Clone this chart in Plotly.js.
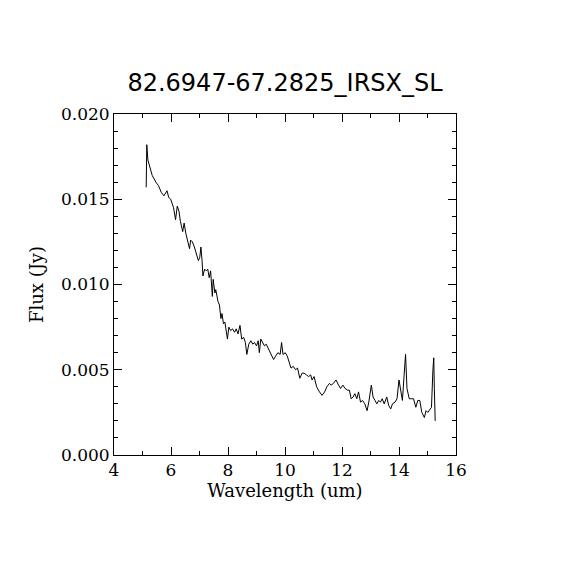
<!DOCTYPE html>
<html>
<head>
<meta charset="utf-8">
<script src="https://cdn.plot.ly/plotly-3.0.1.min.js"></script>
<style>html,body{margin:0;padding:0;background:#fff;}#chart{width:570px;height:570px;}</style>
</head>
<body>
<div id="chart"></div>
<script>
const chartTitle = "82.6947-67.2825_IRSX_SL";
const xLabel = "Wavelength (um)";
const yLabel = "Flux (Jy)";
const wavelength = [5.13,5.15,5.19,5.22,5.27,5.34,5.47,5.56,5.66,5.75,5.86,5.92,5.99,6.09,6.16,6.22,6.28,6.33,6.41,6.46,6.52,6.60,6.65,6.69,6.75,6.82,6.88,6.96,7.01,7.05,7.09,7.12,7.18,7.24,7.29,7.34,7.39,7.45,7.48,7.54,7.57,7.61,7.65,7.70,7.75,7.79,7.84,7.89,7.94,7.98,8.03,8.09,8.16,8.23,8.29,8.35,8.42,8.48,8.55,8.61,8.66,8.73,8.80,8.87,8.93,9.00,9.06,9.10,9.15,9.21,9.28,9.34,9.42,9.51,9.60,9.67,9.75,9.83,9.88,9.93,10.01,10.08,10.15,10.21,10.29,10.37,10.44,10.52,10.60,10.67,10.75,10.83,10.90,10.95,11.02,11.11,11.21,11.30,11.39,11.47,11.56,11.62,11.70,11.79,11.88,11.95,12.03,12.11,12.20,12.26,12.32,12.39,12.45,12.52,12.58,12.65,12.72,12.80,12.88,12.94,13.03,13.09,13.16,13.22,13.29,13.35,13.41,13.48,13.57,13.64,13.71,13.77,13.86,13.93,14.00,14.05,14.12,14.18,14.23,14.28,14.36,14.44,14.51,14.59,14.66,14.73,14.80,14.89,14.95,15.01,15.08,15.14,15.19,15.22,15.24,15.27];
const flux = [0.0157,0.0182,0.0173,0.0171,0.0167,0.0164,0.0160,0.0158,0.0154,0.0152,0.0155,0.0151,0.0150,0.0145,0.0138,0.0146,0.0143,0.0137,0.0131,0.0136,0.0130,0.0125,0.0121,0.0126,0.0125,0.0122,0.0119,0.0114,0.0116,0.0122,0.0114,0.0105,0.0109,0.0108,0.0109,0.0104,0.0108,0.0093,0.0103,0.0095,0.0097,0.0092,0.0090,0.0088,0.0080,0.0083,0.0077,0.0078,0.0072,0.0068,0.0075,0.0073,0.0074,0.0072,0.0074,0.0071,0.0076,0.0068,0.0069,0.0066,0.0059,0.0065,0.0067,0.0065,0.0066,0.0064,0.0067,0.0060,0.0068,0.0066,0.0064,0.0065,0.0062,0.0059,0.0056,0.0058,0.0060,0.0059,0.0066,0.0059,0.0060,0.0058,0.0054,0.0051,0.0052,0.0050,0.0051,0.0045,0.0048,0.0048,0.0047,0.0046,0.0047,0.0044,0.0046,0.0040,0.0037,0.0035,0.0037,0.0040,0.0042,0.0041,0.0042,0.0044,0.0041,0.0039,0.0041,0.0039,0.0038,0.0038,0.0033,0.0034,0.0036,0.0033,0.0037,0.0031,0.0032,0.0030,0.0026,0.0031,0.0041,0.0034,0.0032,0.0030,0.0032,0.0031,0.0033,0.0030,0.0034,0.0029,0.0027,0.0030,0.0031,0.0033,0.0044,0.0038,0.0032,0.0047,0.0059,0.0039,0.0033,0.0033,0.0033,0.0028,0.0032,0.0032,0.0025,0.0022,0.0026,0.0025,0.0027,0.0028,0.0050,0.0057,0.0039,0.0020];
const xTicks = [4,6,8,10,12,14,16];
const yTicks = [0.000,0.005,0.010,0.015,0.020];
const yTickText = ["0.000","0.005","0.010","0.015","0.020"];

const axisFont = {family:"DejaVu Serif", size:17, color:"#000"};
const trace = {x:wavelength, y:flux, type:"scatter", mode:"lines", line:{color:"#000", width:1}, hoverinfo:"skip"};
const layout = {
  width:570, height:570,
  margin:{l:114, r:114, t:114, b:115},
  paper_bgcolor:"#fff", plot_bgcolor:"#fff",
  showlegend:false,
  title:{text:chartTitle, font:{family:"DejaVu Sans", size:24, color:"#000"}, x:0.5, xanchor:"center", y:1-83/570, yanchor:"middle", yref:"container"},
  xaxis:{range:[4,16], tickvals:xTicks, ticktext:xTicks.map(String), ticks:"inside", ticklen:8, tickwidth:1, tickcolor:"#000",
    minor:{dtick:1, tick0:4, ticks:"inside", ticklen:4, tickcolor:"#000", showgrid:false},
    showline:true, linecolor:"#000", linewidth:1, mirror:"allticks", showgrid:false, zeroline:false,
    tickfont:axisFont, title:{text:xLabel, font:{family:"DejaVu Serif", size:18, color:"#000"}, standoff:4}},
  yaxis:{range:[0,0.020], tickvals:yTicks, ticktext:yTickText, ticks:"inside", ticklen:8, tickwidth:1, tickcolor:"#000",
    minor:{dtick:0.001, tick0:0, ticks:"inside", ticklen:4, tickcolor:"#000", showgrid:false},
    showline:true, linecolor:"#000", linewidth:1, mirror:"allticks", showgrid:false, zeroline:false,
    tickfont:axisFont, title:{text:yLabel, font:{family:"DejaVu Serif", size:18, color:"#000"}, standoff:12}}
};
Plotly.newPlot("chart", [trace], layout, {displayModeBar:false, staticPlot:true});
</script>
</body>
</html>
